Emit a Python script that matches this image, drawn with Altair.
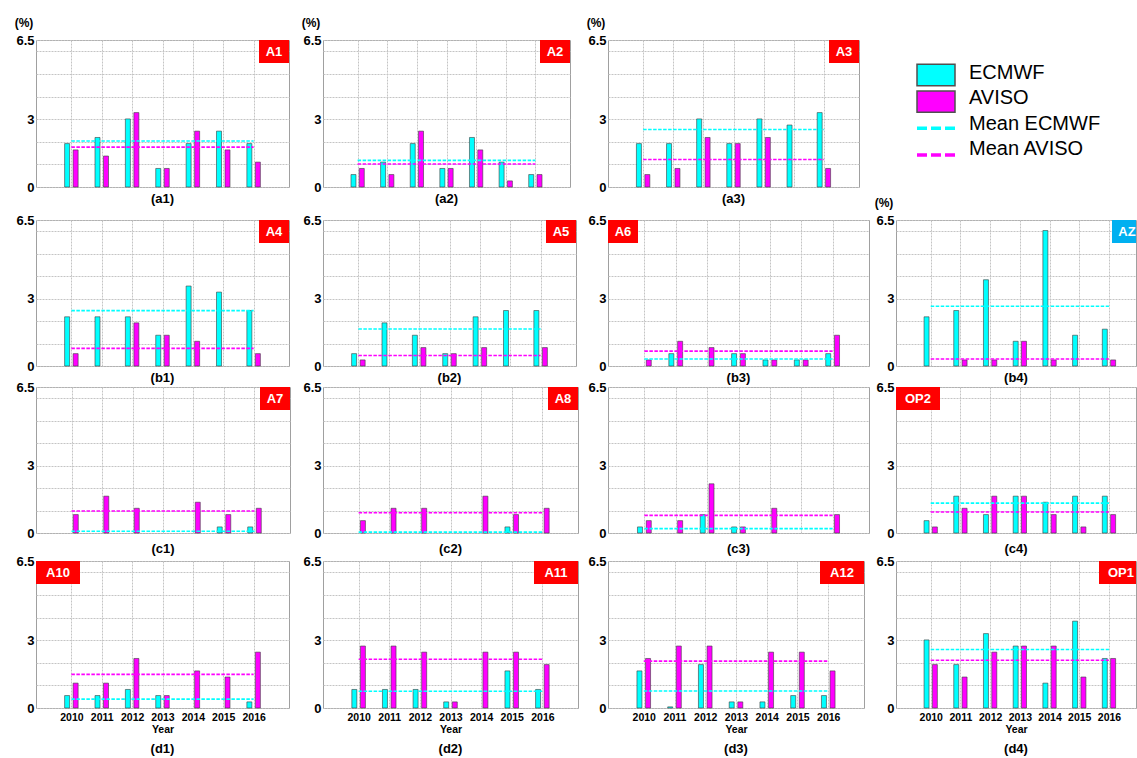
import altair as alt
import pandas as pd

FONT = "Liberation Sans, Arial, sans-serif"
CYAN = "#00FFFF"
MAGENTA = "#FF00FF"
RED = "#FF0000"
BLUE = "#00B0F0"

YEARS = [2010, 2011, 2012, 2013, 2014, 2015, 2016]
Y_LABELS = ["0", "3", "6.5"]
Y_GRID = [0, 1, 2, 3, 4, 5, 6, 6.5]

# share of days per year (%) for each area
a1_ecmwf = [1.92, 2.19, 3.01, 0.82, 1.92, 2.47, 1.92]
a1_aviso = [1.64, 1.37, 3.29, 0.82, 2.47, 1.64, 1.10]
a2_ecmwf = [0.55, 1.10, 1.92, 0.82, 2.19, 1.10, 0.55]
a2_aviso = [0.82, 0.55, 2.47, 0.82, 1.64, 0.27, 0.55]
a3_ecmwf = [1.92, 1.92, 3.01, 1.92, 3.01, 2.74, 3.29]
a3_aviso = [0.55, 0.82, 2.19, 1.92, 2.19, 0.00, 0.82]

b1_ecmwf = [2.19, 2.19, 2.19, 1.37, 3.56, 3.29, 2.47]
b1_aviso = [0.55, 0.00, 1.92, 1.37, 1.10, 0.00, 0.55]
b2_ecmwf = [0.55, 1.92, 1.37, 0.55, 2.19, 2.47, 2.47]
b2_aviso = [0.27, 0.00, 0.82, 0.55, 0.82, 0.00, 0.82]
b3_ecmwf = [0.00, 0.55, 0.00, 0.55, 0.27, 0.27, 0.55]
b3_aviso = [0.27, 1.10, 0.82, 0.55, 0.27, 0.27, 1.37]
b4_ecmwf = [2.19, 2.47, 3.84, 1.10, 6.03, 1.37, 1.64]
b4_aviso = [0.00, 0.27, 0.27, 1.10, 0.27, 0.00, 0.27]

c1_ecmwf = [0.00, 0.00, 0.00, 0.00, 0.00, 0.27, 0.27]
c1_aviso = [0.82, 1.64, 1.10, 0.00, 1.37, 0.82, 1.10]
c2_ecmwf = [0.00, 0.00, 0.00, 0.00, 0.00, 0.27, 0.00]
c2_aviso = [0.55, 1.10, 1.10, 0.00, 1.64, 0.82, 1.10]
c3_ecmwf = [0.27, 0.00, 0.82, 0.27, 0.00, 0.00, 0.00]
c3_aviso = [0.55, 0.55, 2.19, 0.27, 1.10, 0.00, 0.82]
c4_ecmwf = [0.55, 1.64, 0.82, 1.64, 1.37, 1.64, 1.64]
c4_aviso = [0.27, 1.10, 1.64, 1.64, 0.82, 0.27, 0.82]

d1_ecmwf = [0.55, 0.55, 0.82, 0.55, 0.00, 0.00, 0.27]
d1_aviso = [1.10, 1.10, 2.19, 0.55, 1.64, 1.37, 2.47]
d2_ecmwf = [0.82, 0.82, 0.82, 0.27, 0.00, 1.64, 0.82]
d2_aviso = [2.74, 2.74, 2.47, 0.27, 2.47, 2.47, 1.92]
d3_ecmwf = [1.64, 0.05, 1.92, 0.27, 0.27, 0.55, 0.55]
d3_aviso = [2.19, 2.74, 2.74, 0.27, 2.47, 2.47, 1.64]
d4_ecmwf = [3.01, 1.92, 3.29, 2.74, 1.10, 3.84, 2.19]
d4_aviso = [1.92, 1.37, 2.47, 2.74, 2.74, 1.37, 2.19]

LEGEND_LABELS = ["ECMWF", "AVISO", "Mean ECMWF", "Mean AVISO"]

# grid geometry (plot areas, pixels)
COL_GAPS = [33, 30, 27]
ROW_GAPS = [33, 21, 28]
ROW_H = [147, 146, 146, 147]
PX_PER_YEAR = 31.0
CAPTION_DY = [12, 12, 16, 41]

PANELS = {
    (0, 0): dict(cap="(a1)", tag="A1", side="right", w=253, e=a1_ecmwf, a=a1_aviso, pct=True),
    (0, 1): dict(cap="(a2)", tag="A2", side="right", w=247, e=a2_ecmwf, a=a2_aviso, pct=True),
    (0, 2): dict(cap="(a3)", tag="A3", side="right", w=251, e=a3_ecmwf, a=a3_aviso, pct=True),
    (1, 0): dict(cap="(b1)", tag="A4", side="right", w=253, e=b1_ecmwf, a=b1_aviso),
    (1, 1): dict(cap="(b2)", tag="A5", side="right", w=253, e=b2_ecmwf, a=b2_aviso),
    (1, 2): dict(cap="(b3)", tag="A6", side="left", w=261, e=b3_ecmwf, a=b3_aviso),
    (1, 3): dict(cap="(b4)", tag="AZ", side="right", w=240, e=b4_ecmwf, a=b4_aviso,
                 pct=True, color=BLUE, cut=6),
    (2, 0): dict(cap="(c1)", tag="A7", side="right", w=254, e=c1_ecmwf, a=c1_aviso),
    (2, 1): dict(cap="(c2)", tag="A8", side="right", w=255, e=c2_ecmwf, a=c2_aviso),
    (2, 2): dict(cap="(c3)", tag=None, side="right", w=261, e=c3_ecmwf, a=c3_aviso),
    (2, 3): dict(cap="(c4)", tag="OP2", side="left", w=240, e=c4_ecmwf, a=c4_aviso),
    (3, 0): dict(cap="(d1)", tag="A10", side="left", w=253, e=d1_ecmwf, a=d1_aviso),
    (3, 1): dict(cap="(d2)", tag="A11", side="right", w=255, e=d2_ecmwf, a=d2_aviso),
    (3, 2): dict(cap="(d3)", tag="A12", side="right", w=256, e=d3_ecmwf, a=d3_aviso),
    (3, 3): dict(cap="(d4)", tag="OP1", side="right", w=240, e=d4_ecmwf, a=d4_aviso, cut=7),
}

ONE = pd.DataFrame({"k": [0]})
SRC_SCALE = alt.Scale(domain=["ECMWF", "AVISO"], range=[CYAN, MAGENTA])

# only 0, 3 and 6.5 carry a label; the other grid lines stay unlabelled
Y_LABEL_EXPR = ("format(datum.value, '~g') == '%s' || format(datum.value, '~g') == '%s' "
                "|| format(datum.value, '~g') == '%s' ? format(datum.value, '~g') : ''"
                % tuple(Y_LABELS))


def panel(r, c, p):
    w, h = p["w"], ROW_H[r]
    df = pd.DataFrame({
        "year": YEARS * 2,
        "src": ["ECMWF"] * len(YEARS) + ["AVISO"] * len(YEARS),
        "value": p["e"] + p["a"],
    })
    xmax = 2009 + w / PX_PER_YEAR if c == 3 else 2017
    bottom = r == 3
    xscale = alt.Scale(domain=[2009, xmax], nice=False, zero=False)
    xaxis = alt.Axis(values=YEARS, grid=True, ticks=False, domain=False,
                     labels=bottom, format="d", labelFlush=False,
                     title="Year" if bottom else None)
    yscale = alt.Scale(domain=[0, 6.5], nice=False)
    yaxis = alt.Axis(values=Y_GRID, grid=True, ticks=False, domain=False,
                     labelOverlap=False, labelFlush=False, title=None,
                     labelExpr=Y_LABEL_EXPR)

    base = alt.Chart(df)
    bars = base.transform_filter("datum.value > 0").transform_calculate(
        xpos="datum.year + (datum.src == 'ECMWF' ? -0.14 : 0.14)"
    ).mark_bar(size=5, stroke="#3c3c3c", strokeWidth=0.6).encode(
        x=alt.X("xpos:Q", scale=xscale, axis=xaxis),
        y=alt.Y("value:Q", scale=yscale, axis=yaxis),
        color=alt.Color("src:N", scale=SRC_SCALE, legend=None),
    )
    means = base.transform_aggregate(
        mean="mean(value)", x0="min(year)", x1="max(year)", groupby=["src"]
    ).mark_rule(strokeWidth=1.6, strokeDash=[3.5, 1.5]).encode(
        x=alt.X("x0:Q", scale=xscale, axis=xaxis),
        x2="x1:Q",
        y=alt.Y("mean:Q", scale=yscale, axis=yaxis),
        color=alt.Color("src:N", scale=SRC_SCALE, legend=None),
    )
    layers = [bars, means]

    if p.get("tag"):
        tag = p["tag"]
        bw = 30 if len(tag) == 2 else 44
        cut = p.get("cut", 0)
        x0 = 0 if p["side"] == "left" else w - bw + cut
        x1 = min(x0 + bw, w)
        tdf = pd.DataFrame({"t": [tag]})
        layers.append(alt.Chart(tdf).mark_rect(color=p.get("color", RED)).encode(
            x=alt.value(x0), x2=alt.value(x1), y=alt.value(0), y2=alt.value(23)))
        layers.append(alt.Chart(tdf).mark_text(
            color="white", fontWeight="bold", fontSize=13, font=FONT, baseline="middle"
        ).encode(x=alt.value(x0 + bw / 2), y=alt.value(12), text="t:N"))

    cdf = pd.DataFrame({"t": [p["cap"]]})
    layers.append(alt.Chart(cdf).mark_text(
        fontWeight="bold", fontSize=13, font=FONT, baseline="middle", color="black"
    ).encode(x=alt.value(w / 2), y=alt.value(h + CAPTION_DY[r]), text="t:N"))

    if p.get("pct"):
        layers.append(alt.Chart(pd.DataFrame({"t": ["(%)"]})).mark_text(
            fontWeight="bold", fontSize=12, font=FONT, baseline="middle", color="black"
        ).encode(x=alt.value(-12), y=alt.value(-17), text="t:N"))

    return alt.layer(*layers).properties(width=w, height=h)


def legend_cell(w, h):
    leg = pd.DataFrame({
        "label": LEGEND_LABELS,
        "idx": [0, 1, 2, 3],
        "kind": ["box", "box", "line", "line"],
        "col": [CYAN, MAGENTA, CYAN, MAGENTA],
    })
    mark_y = alt.Y("idx:Q", scale=alt.Scale(domain=[0, 3], range=[35, 115]), axis=None)
    text_y = alt.Y("idx:Q", scale=alt.Scale(domain=[0, 3], range=[33, 109]), axis=None)
    src = alt.Chart(leg)
    boxes = src.transform_filter("datum.kind == 'box'").mark_point(
        shape="M-1,-0.56H1V0.56H-1Z", size=38 * 38, filled=True, opacity=1,
        stroke="#505050", strokeWidth=1.5
    ).encode(x=alt.value(40), y=mark_y, fill=alt.Fill("col:N", scale=None))
    lines = src.transform_filter("datum.kind == 'line'").mark_rule(
        strokeWidth=3.5, strokeDash=[10, 4]
    ).encode(x=alt.value(21), x2=alt.value(59), y=mark_y,
             stroke=alt.Stroke("col:N", scale=None))
    texts = src.mark_text(align="left", baseline="middle", fontSize=20,
                          font=FONT, color="black").encode(
        x=alt.value(73), y=text_y, text="label:N")
    return alt.layer(boxes, lines, texts).resolve_scale(y="independent").properties(
        width=w, height=h, view=alt.ViewBackground(stroke=None))


def spacer(w, h):
    return alt.Chart(ONE).mark_point(size=0, opacity=0).encode(
        x=alt.value(0), y=alt.value(0)
    ).properties(width=w, height=h, view=alt.ViewBackground(stroke=None))


cells = []
for gr in range(7):
    for gc in range(7):
        r, c = gr // 2, gc // 2
        row_is_gap, col_is_gap = gr % 2 == 1, gc % 2 == 1
        if not row_is_gap and not col_is_gap:
            if (r, c) in PANELS:
                cells.append(panel(r, c, PANELS[(r, c)]))
            else:
                cells.append(legend_cell(240, ROW_H[r]))
        else:
            w = COL_GAPS[c] if col_is_gap else 1
            h = ROW_GAPS[r] if row_is_gap else 1
            cells.append(spacer(w, h))

chart = alt.concat(*cells, columns=7, spacing=0, bounds="flush").properties(
    padding={"left": 14, "top": 16, "right": 0, "bottom": 0},
    background="white",
).configure_view(
    stroke="#A0A0A0", strokeWidth=1
).configure_axis(
    labelFont=FONT, titleFont=FONT, labelFontWeight="bold", titleFontWeight="bold",
    labelColor="black", titleColor="black",
    gridColor="#C4C4C4", gridDash=[2, 1], gridWidth=1,
).configure_axisY(
    labelFontSize=13, labelPadding=2,
).configure_axisX(
    labelFontSize=10.5, titleFontSize=10.5, labelPadding=4, titlePadding=2,
)

chart.save("out.html", embed_options={"renderer": "svg", "actions": False})
